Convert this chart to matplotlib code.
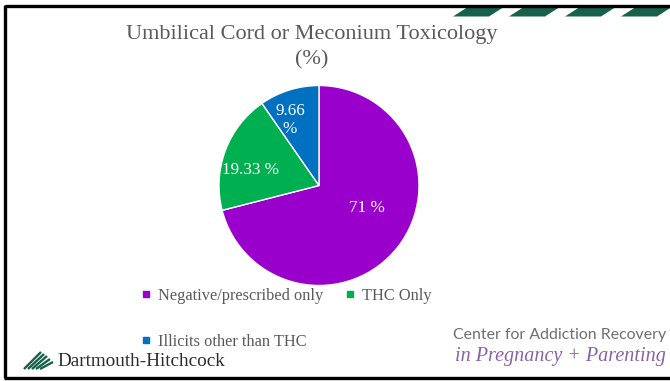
import matplotlib.pyplot as plt
from matplotlib.patches import Polygon
from matplotlib.lines import Line2D

# data
categories = ["Negative/prescribed only", "THC Only", "Illicits other than THC"]
values = [71, 19.33, 9.66]
value_labels = ["71 %", "19.33 %", "9.66\n%"]
colors = ["#9900CC", "#00B050", "#0070C0"]

title = "Umbilical Cord or Meconium Toxicology\n(%)"
text_gray = "#595959"
dh_green = "#17604b"
W, H = 670, 381

fig = plt.figure(figsize=(W / 100, H / 100), dpi=100, facecolor="white")

# overlay in pixel coords for slide decorations
bg = fig.add_axes([0, 0, 1, 1])
bg.set_xlim(0, W)
bg.set_ylim(H, 0)
bg.axis("off")

# frame
bg.plot([5, W], [5.5, 5.5], color="black", lw=2.4, solid_capstyle="butt")
bg.plot([5, 5], [5, 378], color="black", lw=2.4, solid_capstyle="butt")
bg.plot([4, W], [377.5, 377.5], color="black", lw=2.4, solid_capstyle="butt")

# stripes top right
for x0 in [453, 509, 565, 621]:
    bg.add_patch(Polygon([[x0, 16.5], [x0 + 36, 16.5], [x0 + 50, 7.5], [x0 + 14, 7.5]],
                         closed=True, color=dh_green, lw=0))

# Dartmouth-Hitchcock logo
icon = [(24, 369, 41, 352), (28, 369, 44, 354), (32, 369, 47, 356),
        (36, 369, 50, 359), (40, 369, 53, 362)]
for x1, y1, x2, y2 in icon:
    bg.plot([x1, x2], [y1, y2], color=dh_green, lw=1.7, solid_capstyle="butt")
bg.text(57, 362, "Dartmouth-Hitchcock", fontsize=13.8, family="Liberation Serif",
        color="#2b2b2b", va="center", ha="left")

# Center for Addiction Recovery text
bg.text(453, 335, "Center for Addiction Recovery", fontsize=11.4, family="Lato",
        color="#6e6e6e", va="center", ha="left")
bg.text(455, 356, "in Pregnancy + Parenting", fontsize=14.5, family="Liberation Serif",
        style="italic", color="#8a62a8", va="center", ha="left")

# title
bg.text(312, 35, "Umbilical Cord or Meconium Toxicology", fontsize=16,
        family="Liberation Serif", color=text_gray, ha="center", va="center")
bg.text(312, 60, "(%)", fontsize=16, family="Liberation Serif", color=text_gray,
        ha="center", va="center")

# pie
cx, cy, r = 319, 185.5, 100
ax = fig.add_axes([(cx - r) / W, 1 - (cy + r) / H, 2 * r / W, 2 * r / H])
ax.pie(values, colors=colors, startangle=90, counterclock=False,
       wedgeprops=dict(edgecolor="white", linewidth=1.0))
ax.set_xlim(-1, 1)
ax.set_ylim(-1, 1)
ax.set_aspect("equal")
ax.axis("off")

label_pos = [(0.48, -0.23), (-0.68, 0.155), (-0.29, 0.655)]
for (lx, ly), lab in zip(label_pos, value_labels):
    ax.text(lx, ly, lab, color="white", fontsize=12.3, family="Liberation Serif",
            ha="center", va="center", linespacing=1.2)

# legend
handles = [Line2D([], [], marker="s", color=c, ls="none", markersize=4.5) for c in colors]
order = [0, 2, 1]
fig.legend([handles[i] for i in order], [categories[i] for i in order],
           ncol=2, loc="upper left", bbox_to_anchor=(141 / W, 1 - 288 / H),
           frameon=False, prop=dict(family="Liberation Serif", size=11.8),
           labelcolor=text_gray, handlelength=0.6, handletextpad=0.45,
           columnspacing=1.3, labelspacing=1.8, borderpad=0, borderaxespad=0)

fig.savefig("out.png", dpi=100, facecolor="white")
